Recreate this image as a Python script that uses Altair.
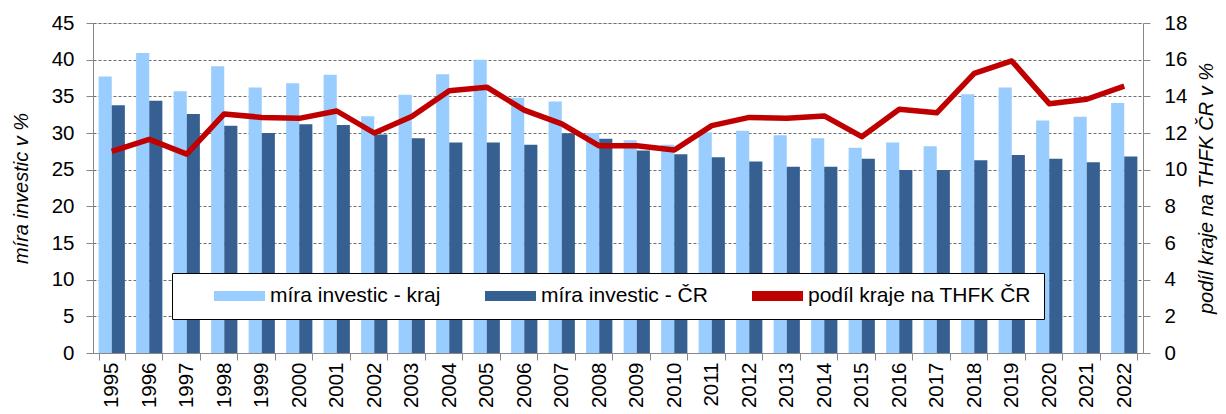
import altair as alt
import pandas as pd

years = [str(y) for y in range(1995, 2023)]
mira_kraj = [37.7, 40.9, 35.7, 39.1, 36.2, 36.8, 37.95, 32.3, 35.2, 38.0, 40.0, 34.8, 34.3, 30.0,
             29.0, 28.4, 30.1, 30.3, 29.7, 29.3, 28.0, 28.7, 28.2, 35.3, 36.2, 31.7, 32.2, 34.1]
mira_cr = [33.8, 34.4, 32.6, 31.0, 30.0, 31.2, 31.1, 29.8, 29.3, 28.7, 28.7, 28.4, 29.95, 29.2,
           27.6, 27.1, 26.7, 26.1, 25.4, 25.4, 26.5, 24.95, 24.95, 26.3, 27.0, 26.5, 26.0, 26.8]
podil = [11.0, 11.65, 10.85, 13.04, 12.85, 12.8, 13.2, 12.0, 12.9, 14.3, 14.5, 13.25, 12.5, 11.3,
         11.3, 11.07, 12.4, 12.85, 12.8, 12.93, 11.8, 13.3, 13.1, 15.25, 15.93, 13.6, 13.84, 14.56]

series_names = ["míra investic - kraj", "míra investic - ČR", "podíl kraje na THFK ČR"]
series_colors = ["#99CCFF", "#366092", "#C00000"]

bars_df = pd.DataFrame({
    "year": years * 2,
    "series": [series_names[0]] * len(years) + [series_names[1]] * len(years),
    "value": mira_kraj + mira_cr,
})
line_df = pd.DataFrame({"year": years, "value": podil})

FONT = "Liberation Sans"

x_enc = alt.X(
    "year:O",
    scale=alt.Scale(paddingInner=0.3, paddingOuter=0.15),
    axis=alt.Axis(
        title=None, tickBand="extent", labelAngle=270, labelAlign="right",
        labelBaseline="middle", labelFontSize=20.5, tickSize=7, labelPadding=2,
        grid=False,
    ),
)

# pad the right side of the legend box (non-breaking spaces are invisible)
last_label = series_names[2]
label_expr = f"datum.label == '{last_label}' ? datum.label + '\u00a0\u00a0\u00a0\u00a0' : datum.label"

bars = alt.Chart(bars_df).mark_bar().encode(
    x=x_enc,
    xOffset=alt.XOffset("series:N", sort=series_names[:2]),
    y=alt.Y(
        "value:Q",
        scale=alt.Scale(domain=[0, 45], nice=False),
        axis=alt.Axis(
            values=list(range(0, 46, 5)), title="míra investic v %",
            titleFontStyle="italic", titleFontWeight="normal", titleFontSize=20,
            titlePadding=20, labelFontSize=20.5, tickSize=7, labelPadding=12,
            grid=True, gridDash=[3, 2], gridColor="#6f6f6f", gridWidth=1,
        ),
    ),
    color=alt.Color(
        "series:N",
        scale=alt.Scale(domain=series_names, range=series_colors),
        legend=alt.Legend(
            title=" ", titleOrient="left", titleFontSize=10, titlePadding=29,
            orient="none", direction="horizontal",
            legendX=79, legendY=250,
            symbolType="M-1,-0.2H1V0.2H-1Z", symbolSize=2601,
            symbolStrokeWidth=0, labelFontSize=21, labelOffset=5,
            labelLimit=400, clipHeight=20, labelExpr=label_expr,
            columnPadding=44, padding=13, strokeColor="#000000",
            fillColor="#ffffff", labelFont=FONT,
        ),
    ),
)

line = alt.Chart(line_df).mark_line(
    color="#C00000", strokeWidth=5.5, strokeJoin="round"
).encode(
    x=alt.X("year:O"),
    y=alt.Y(
        "value:Q",
        scale=alt.Scale(domain=[0, 18], nice=False),
        axis=alt.Axis(
            orient="right", values=list(range(0, 19, 2)),
            title="podíl kraje na THFK ČR v %", titleFontStyle="italic",
            titleFontWeight="normal", titleFontSize=20, titleAngle=270,
            titlePadding=30, labelFontSize=20.5, tickSize=7, labelPadding=14,
            grid=False,
        ),
    ),
)

chart = alt.layer(bars, line).resolve_scale(y="independent").properties(
    width=1050, height=330,
    autosize=alt.AutoSizeParams(type="none"),
    padding={"left": 85, "top": 15, "right": 75, "bottom": 58},
).configure_view(
    stroke="#000000", strokeWidth=1
).configure_axis(
    domainColor="#000000", tickColor="#000000", labelColor="#000000",
    titleColor="#000000", labelFont=FONT, titleFont=FONT,
).configure(font=FONT)

chart.save("out.html", embed_options={"renderer": "svg", "actions": False})
